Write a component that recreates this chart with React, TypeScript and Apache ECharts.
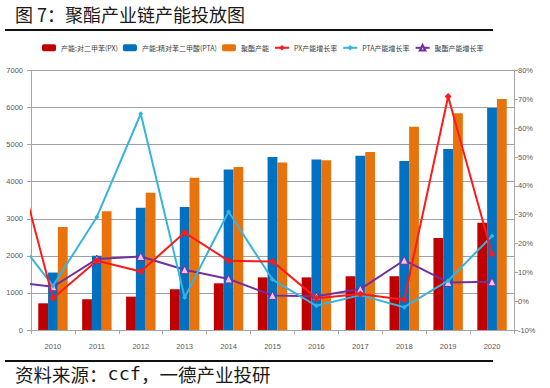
import React, { useEffect, useRef } from "react";
import * as echarts from "echarts";

const categories = ["2010", "2011", "2012", "2013", "2014", "2015", "2016", "2017", "2018", "2019", "2020"];
const pxCapacity = [720, 830, 900, 1100, 1260, 1420, 1420, 1450, 1450, 2480, 2890];
const ptaCapacity = [1550, 2000, 3300, 3320, 4330, 4670, 4600, 4700, 4560, 4880, 5990];
const polyCapacity = [2780, 3200, 3700, 4110, 4400, 4520, 4580, 4800, 5480, 5850, 6230];

// growth-rate lines (first value is 2009, outside the visible range)
const lineYears = [2009, 2010, 2011, 2012, 2013, 2014, 2015, 2016, 2017, 2018, 2019, 2020];
const pxGrowth = [59, 1, 14, 10.3, 23.8, 14, 13.8, 1, 2.5, 0.5, 71, 16.3];
const ptaGrowth = [25, 5.3, 29.2, 65, 1.3, 31, 7.5, -1.6, 2.1, -2.1, 7.1, 22.6];
const polyGrowth = [6.8, 5, 14.6, 15.5, 10.9, 7.7, 2, 1.7, 4.2, 14.2, 6.5, 6.7];

const seriesNames = [
  "产能:对二甲苯(PX)",
  "产能:精对苯二甲酸(PTA)",
  "聚酯产能",
  "PX产能增长率",
  "PTA产能增长率",
  "聚酯产能增长率",
];

const pair = (ys: number[]) => lineYears.map((y, i) => [y, ys[i]]);

export default function App() {
  const ref = useRef<HTMLDivElement>(null);
  useEffect(() => {
    document.body.style.margin = "0";
    if (!ref.current) return;
    const chart = echarts.init(ref.current, null, { renderer: "svg" });
    const axisLabelStyle = { color: "#595959", fontSize: 7.5, fontFamily: "Liberation Sans" };
    chart.setOption({
      animation: false,
      backgroundColor: "#ffffff",
      textStyle: { fontFamily: "Noto Sans CJK SC" },
      legend: {
        left: 37,
        top: 39,
        itemWidth: 14,
        itemHeight: 7,
        itemGap: 5,
        textStyle: { fontSize: 7, color: "#404040", fontFamily: "Noto Sans CJK SC" },
        data: seriesNames,
      },
      grid: { left: 31, right: 36, top: 70.5, bottom: 58 },
      xAxis: [
        {
          type: "category",
          data: categories,
          axisLine: { lineStyle: { color: "#a6a6a6" } },
          axisTick: { show: true, length: 4, lineStyle: { color: "#a6a6a6" } },
          axisLabel: { ...axisLabelStyle, margin: 12 },
        },
        {
          type: "value",
          min: 2009.5,
          max: 2020.5,
          show: false,
        },
      ],
      yAxis: [
        {
          type: "value",
          min: 0,
          max: 7000,
          interval: 1000,
          axisLine: { show: true, lineStyle: { color: "#a6a6a6" } },
          axisTick: { show: true, length: 4, lineStyle: { color: "#a6a6a6" } },
          axisLabel: { ...axisLabelStyle, margin: 8, formatter: (v: number) => String(v) },
          splitLine: { lineStyle: { color: "#a0a0a0", width: 1 } },
        },
        {
          type: "value",
          min: -10,
          max: 80,
          interval: 10,
          position: "right",
          axisLine: { show: true, lineStyle: { color: "#a6a6a6" } },
          axisTick: { show: true, length: 4, lineStyle: { color: "#a6a6a6" } },
          axisLabel: { ...axisLabelStyle, margin: 4, formatter: "{value}%" },
          splitLine: { show: false },
        },
      ],
      series: [
        {
          name: seriesNames[0],
          type: "bar",
          data: pxCapacity,
          barGap: "0%",
          barCategoryGap: "33%",
          itemStyle: { color: "#c00000" },
        },
        {
          name: seriesNames[1],
          type: "bar",
          data: ptaCapacity,
          barGap: "0%",
          barCategoryGap: "33%",
          itemStyle: { color: "#0070c0" },
        },
        {
          name: seriesNames[2],
          type: "bar",
          data: polyCapacity,
          barGap: "0%",
          barCategoryGap: "33%",
          itemStyle: { color: "#e8730c" },
        },
        {
          name: seriesNames[3],
          type: "line",
          xAxisIndex: 1,
          yAxisIndex: 1,
          data: pair(pxGrowth),
          clip: true,
          symbol: "diamond",
          symbolSize: 7,
          lineStyle: { color: "#ff1a1a", width: 2 },
          itemStyle: { color: "#ff1a1a" },
          z: 5,
        },
        {
          name: seriesNames[4],
          type: "line",
          xAxisIndex: 1,
          yAxisIndex: 1,
          data: pair(ptaGrowth),
          clip: true,
          symbol: "diamond",
          symbolSize: 5,
          lineStyle: { color: "#36b4de", width: 2 },
          itemStyle: { color: "#36b4de" },
          z: 4,
        },
        {
          name: seriesNames[5],
          type: "line",
          xAxisIndex: 1,
          yAxisIndex: 1,
          data: pair(polyGrowth),
          clip: true,
          symbol: "triangle",
          symbolSize: 8,
          lineStyle: { color: "#7030a0", width: 2 },
          itemStyle: { color: "#e8c8e8", borderColor: "#7030a0", borderWidth: 1 },
          z: 3,
        },
      ],
      graphic: [
        {
          type: "text",
          left: 15,
          top: 5,
          style: {
            text: "图 7：聚酯产业链产能投放图",
            fontSize: 18,
            fontFamily: "Noto Sans CJK SC",
            fill: "#1a1a1a",
          },
        },
        {
          type: "line",
          shape: { x1: 5, y1: 30, x2: 493, y2: 30 },
          style: { stroke: "#111", lineWidth: 2 },
        },
        {
          type: "line",
          shape: { x1: 5, y1: 361, x2: 493, y2: 361 },
          style: { stroke: "#111", lineWidth: 2 },
        },
        {
          type: "text",
          left: 15,
          top: 364,
          style: {
            text: "{a|资料来源：}{b|ccf}{a|，一德产业投研}",
            rich: {
              a: { fontSize: 18.5, fontFamily: "Noto Sans CJK SC", fill: "#1a1a1a" },
              b: { fontSize: 18.5, fontFamily: "DejaVu Sans Mono", fill: "#1a1a1a" },
            },
          },
        },
      ],
    });
    return () => chart.dispose();
  }, []);
  return <div ref={ref} style={{ width: 550, height: 388 }} />;
}
